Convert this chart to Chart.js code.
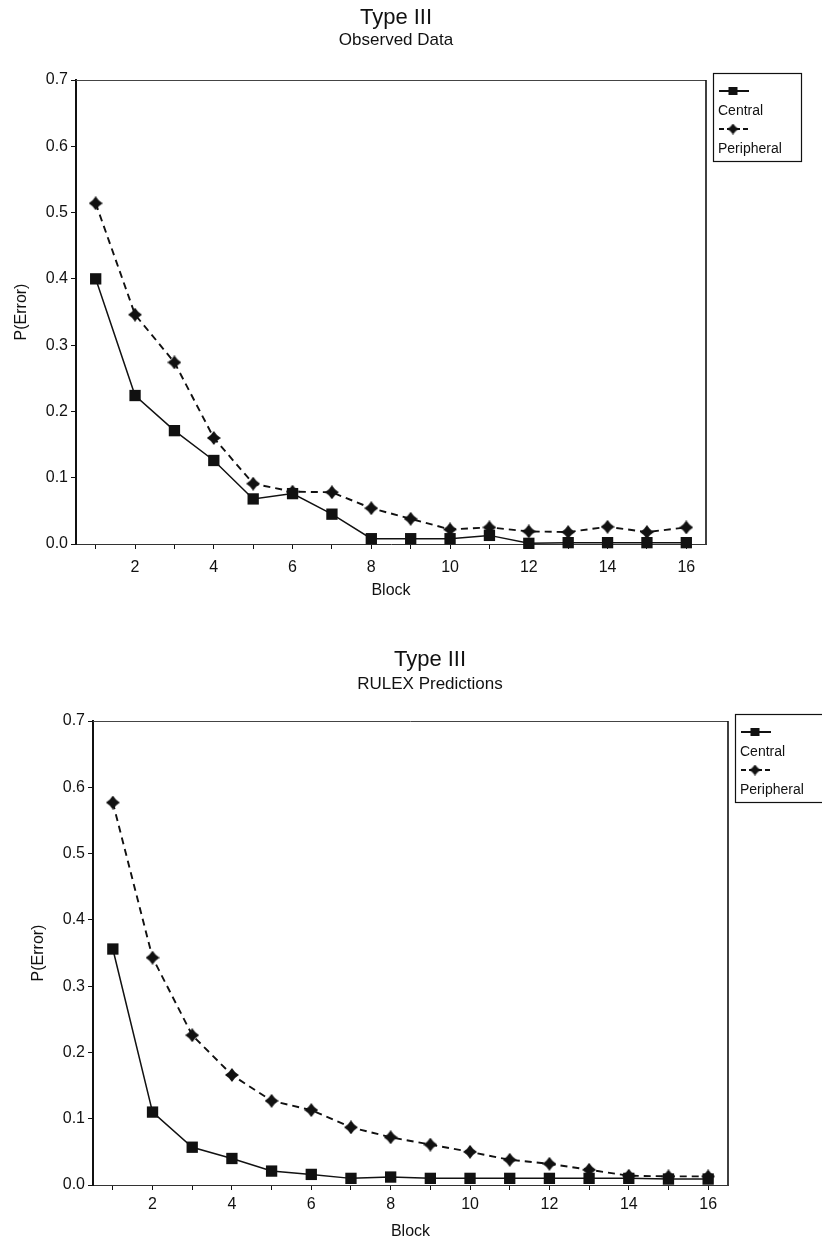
<!DOCTYPE html>
<html>
<head>
<meta charset="utf-8">
<title>Type III</title>
<script src="https://cdn.jsdelivr.net/npm/chart.js@4.4.1/dist/chart.umd.min.js"></script>
<style>
  html, body { margin: 0; padding: 0; background: #fff; }
  #wrap { position: relative; width: 822px; height: 1244px; overflow: hidden; background: #fff; }
  .panel { position: absolute; left: 0; width: 822px; }
  #panelTop { top: 0; height: 620px; }
  #panelBottom { top: 625px; height: 630px; }
  canvas { display: block; }
</style>
</head>
<body>
<div id="wrap">
  <div class="panel" id="panelTop"><canvas id="chartObserved" width="822" height="620"></canvas></div>
  <div class="panel" id="panelBottom"><canvas id="chartRulex" width="822" height="630"></canvas></div>
</div>
<script>
// ---- data ----
const blocks = [1, 2, 3, 4, 5, 6, 7, 8, 9, 10, 11, 12, 13, 14, 15, 16];
const yTicks = [0, 0.1, 0.2, 0.3, 0.4, 0.5, 0.6, 0.7];
const seriesNames = ['Central', 'Peripheral'];

const observedCentral    = [0.400, 0.224, 0.171, 0.126, 0.068, 0.076, 0.045, 0.008, 0.008, 0.008, 0.013, 0.001, 0.002, 0.002, 0.002, 0.002];
const observedPeripheral = [0.514, 0.346, 0.274, 0.160, 0.091, 0.079, 0.078, 0.054, 0.038, 0.022, 0.025, 0.019, 0.018, 0.026, 0.018, 0.025];

const rulexCentral    = [0.356, 0.110, 0.057, 0.040, 0.021, 0.016, 0.010, 0.012, 0.010, 0.010, 0.010, 0.010, 0.010, 0.010, 0.009, 0.009];
const rulexPeripheral = [0.577, 0.343, 0.226, 0.166, 0.127, 0.113, 0.087, 0.072, 0.061, 0.050, 0.038, 0.032, 0.023, 0.014, 0.013, 0.013];

// ---- styling helpers ----
const FONT = '"Liberation Sans", Arial, Helvetica, sans-serif';
const INK = '#111';

// filled four-pointed star used for the Peripheral series
function starMarker(size) {
  const c = document.createElement('canvas');
  c.width = size; c.height = size;
  const g = c.getContext('2d');
  const r = size / 2, ri = r * 0.62;
  g.beginPath();
  for (let i = 0; i < 8; i++) {
    const a = i * Math.PI / 4 - Math.PI / 2;
    const rr = i % 2 ? ri : r;
    g.lineTo(r + rr * Math.cos(a), r + rr * Math.sin(a));
  }
  g.closePath();
  g.fillStyle = INK;
  g.fill();
  return c;
}
const starBig = starMarker(14);
const starSmall = starMarker(11);

function makeDatasets(central, peripheral) {
  return [
    {
      label: seriesNames[0],
      data: central,
      borderColor: INK,
      backgroundColor: INK,
      borderWidth: 1.5,
      pointStyle: 'rect',
      pointRadius: 8,
      pointBorderWidth: 0,
      tension: 0,
      clip: false
    },
    {
      label: seriesNames[1],
      data: peripheral,
      borderColor: INK,
      backgroundColor: INK,
      borderWidth: 1.9,
      borderDash: [7, 5],
      pointStyle: starBig,
      legendPointStyle: starSmall,
      pointRadius: 7,
      tension: 0,
      clip: false
    }
  ];
}

// two-line heading drawn above each panel
const headingPlugin = {
  id: 'heading',
  afterDraw(chart, args, opts) {
    const ctx = chart.ctx;
    ctx.save();
    ctx.fillStyle = INK;
    ctx.textAlign = 'center';
    ctx.textBaseline = 'middle';
    ctx.font = `22px ${FONT}`;
    ctx.fillText(opts.title, opts.x, opts.y1);
    ctx.font = `17px ${FONT}`;
    ctx.fillText(opts.subtitle, opts.x, opts.y2);
    ctx.restore();
  }
};

// top and right edges of the plot box
const framePlugin = {
  id: 'frame',
  beforeDatasetsDraw(chart) {
    const {ctx, chartArea: a} = chart;
    ctx.save();
    ctx.strokeStyle = '#444';
    ctx.lineWidth = 1;
    ctx.beginPath();
    ctx.moveTo(a.left, a.top + 0.5);
    ctx.lineTo(a.right, a.top + 0.5);
    ctx.stroke();
    ctx.strokeStyle = INK;
    ctx.lineWidth = 1.6;
    ctx.beginPath();
    ctx.moveTo(a.right, a.top);
    ctx.lineTo(a.right, a.bottom);
    ctx.stroke();
    ctx.restore();
  }
};

// boxed key to the right of the plot: sample line above each name
const keyPlugin = {
  id: 'keyBox',
  afterDraw(chart) {
    const {ctx, chartArea: a} = chart;
    const x0 = a.right + 7, y0 = a.top - 7, w = 88, h = 88;
    ctx.save();
    ctx.fillStyle = '#fff';
    ctx.fillRect(x0, y0, w, h);
    ctx.strokeStyle = INK;
    ctx.lineWidth = 1.2;
    ctx.strokeRect(x0 + 0.5, y0 + 0.5, w, h);
    chart.data.datasets.forEach((ds, i) => {
      const ly = y0 + 18 + i * 38;
      ctx.strokeStyle = ds.borderColor;
      ctx.lineWidth = 2;
      ctx.setLineDash(ds.borderDash ? [5, 3] : []);
      ctx.beginPath();
      ctx.moveTo(x0 + 6, ly);
      ctx.lineTo(x0 + 36, ly);
      ctx.stroke();
      ctx.setLineDash([]);
      const mx = x0 + 20;
      if (ds.legendPointStyle) {
        const img = ds.legendPointStyle;
        ctx.drawImage(img, mx - img.width / 2, ly - img.height / 2);
      } else {
        ctx.fillStyle = ds.backgroundColor;
        ctx.fillRect(mx - 4.5, ly - 4, 9, 8);
      }
      ctx.fillStyle = INK;
      ctx.font = `14px ${FONT}`;
      ctx.textAlign = 'left';
      ctx.textBaseline = 'middle';
      ctx.fillText(ds.label, x0 + 5, ly + 20);
    });
    ctx.restore();
  }
};

function buildChart(canvasId, central, peripheral, heading, pad, labelGap) {
  return new Chart(document.getElementById(canvasId), {
    type: 'line',
    data: { labels: blocks, datasets: makeDatasets(central, peripheral) },
    plugins: [framePlugin, keyPlugin, headingPlugin],
    options: {
      responsive: false,
      animation: false,
      devicePixelRatio: 1,
      layout: { padding: pad },
      plugins: {
        legend: { display: false },
        tooltip: { enabled: false },
        heading: heading
      },
      scales: {
        x: {
          type: 'category',
          offset: true,
          afterFit(scale) { scale.height = 60; },
          grid: {
            offset: false,
            drawOnChartArea: false,
            drawTicks: true,
            tickLength: 5,
            tickWidth: 1,
            tickColor: INK
          },
          border: { display: true, color: '#333', width: 1 },
          ticks: {
            autoSkip: false,
            maxRotation: 0,
            padding: labelGap,
            color: INK,
            font: { family: FONT, size: 16 },
            callback(value, index) {
              const b = blocks[index];
              return b % 2 === 0 ? String(b) : '';
            }
          },
          title: {
            display: true,
            text: 'Block',
            color: INK,
            font: { family: FONT, size: 16 },
            padding: { top: 0, bottom: 4 }
          }
        },
        y: {
          min: yTicks[0],
          max: yTicks[yTicks.length - 1],
          afterFit(scale) { scale.width = 68; },
          afterBuildTicks(scale) { scale.ticks = yTicks.map(v => ({ value: v })); },
          grid: {
            drawOnChartArea: false,
            drawTicks: true,
            tickLength: 5,
            tickWidth: 1,
            tickColor: INK
          },
          border: { display: true, color: INK, width: 2 },
          ticks: {
            padding: 3,
            color: INK,
            font: { family: FONT, size: 16 },
            callback(value) { return Number(value).toFixed(1); }
          },
          title: {
            display: true,
            text: 'P(Error)',
            color: INK,
            font: { family: FONT, size: 16 },
            padding: { top: 4, bottom: 0 }
          }
        }
      }
    }
  });
}

buildChart('chartObserved', observedCentral, observedPeripheral,
  { title: 'Type III', subtitle: 'Observed Data', x: 396, y1: 18, y2: 40 },
  { left: 8, right: 116, top: 80, bottom: 16 }, 9);

buildChart('chartRulex', rulexCentral, rulexPeripheral,
  { title: 'Type III', subtitle: 'RULEX Predictions', x: 430, y1: 35, y2: 59 },
  { left: 25, right: 94, top: 96, bottom: 10 }, 5);
</script>
</body>
</html>
